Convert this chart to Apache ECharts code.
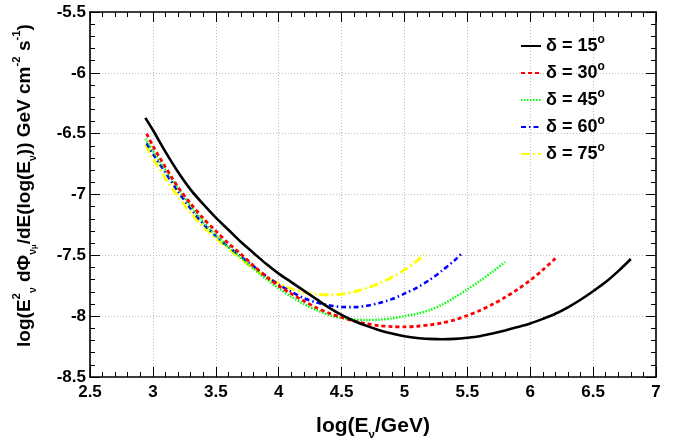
<!DOCTYPE html>
<html>
<head>
<meta charset="utf-8">
<script src="https://cdn.jsdelivr.net/npm/echarts@6/dist/echarts.min.js"></script>
<style>
  html, body { margin: 0; padding: 0; background: #fff; }
  #chart { width: 678px; height: 443px; }
</style>
</head>
<body>
<div id="chart"></div>
<script>
const angles = ['15', '30', '45', '60', '75'];

const x15 = [2.94, 3.0, 3.1, 3.2, 3.3, 3.4, 3.5, 3.6, 3.7, 3.8, 3.9, 4.0, 4.1, 4.2, 4.3, 4.4, 4.5, 4.6, 4.7, 4.8, 4.9,
  5.0, 5.1, 5.2, 5.3, 5.4, 5.5, 5.6, 5.7, 5.8, 5.9, 6.0, 6.1, 6.2, 6.3, 6.4, 6.5, 6.6, 6.7, 6.8];
const y15 = [-6.37, -6.47, -6.65, -6.815, -6.96, -7.08, -7.19, -7.29, -7.39, -7.48, -7.57, -7.65, -7.72, -7.79, -7.86,
  -7.93, -7.99, -8.04, -8.08, -8.115, -8.143, -8.165, -8.18, -8.187, -8.19, -8.187, -8.178, -8.165, -8.142, -8.117,
  -8.09, -8.06, -8.022, -7.98, -7.927, -7.865, -7.795, -7.72, -7.63, -7.53];

const x30 = [2.95, 3.0, 3.05, 3.1, 3.15, 3.2, 3.3, 3.4, 3.5, 3.6, 3.7, 3.8, 3.9, 4.0, 4.1, 4.2, 4.3, 4.4, 4.5, 4.6,
  4.7, 4.8, 4.9, 5.0, 5.1, 5.2, 5.3, 5.4, 5.5, 5.6, 5.7, 5.8, 5.9, 6.0, 6.1, 6.2];
const y30 = [-6.50, -6.60, -6.69, -6.775, -6.86, -6.94, -7.075, -7.195, -7.30, -7.40, -7.49, -7.585, -7.675, -7.75,
  -7.815, -7.875, -7.93, -7.975, -8.01, -8.04, -8.063, -8.078, -8.086, -8.088, -8.083, -8.072, -8.055, -8.03, -7.995,
  -7.953, -7.903, -7.845, -7.78, -7.705, -7.62, -7.525];

const x45 = [2.94, 3.0, 3.1, 3.2, 3.3, 3.4, 3.5, 3.6, 3.7, 3.8, 3.9, 4.0, 4.1, 4.2, 4.3, 4.4, 4.5, 4.6, 4.7, 4.8, 4.9,
  5.0, 5.1, 5.2, 5.3, 5.4, 5.5, 5.6, 5.7, 5.8];
const y45 = [-6.54, -6.64, -6.80, -6.95, -7.095, -7.225, -7.335, -7.43, -7.52, -7.61, -7.695, -7.77, -7.84, -7.90,
  -7.95, -7.99, -8.015, -8.027, -8.031, -8.028, -8.018, -8.0, -7.98, -7.95, -7.905, -7.845, -7.78, -7.71, -7.635,
  -7.555];

const x60 = [2.95, 3.0, 3.1, 3.2, 3.3, 3.4, 3.5, 3.6, 3.7, 3.8, 3.9, 4.0, 4.1, 4.2, 4.3, 4.4, 4.5, 4.6, 4.7, 4.8, 4.9,
  5.0, 5.1, 5.2, 5.3, 5.4, 5.45];
const y60 = [-6.58, -6.665, -6.82, -6.975, -7.115, -7.24, -7.34, -7.43, -7.51, -7.59, -7.67, -7.74, -7.80, -7.852,
  -7.888, -7.91, -7.924, -7.926, -7.915, -7.892, -7.86, -7.815, -7.765, -7.702, -7.625, -7.54, -7.49];

const x75 = [2.94, 3.0, 3.1, 3.2, 3.3, 3.4, 3.5, 3.6, 3.7, 3.8, 3.9, 4.0, 4.1, 4.2, 4.3, 4.4, 4.5, 4.6, 4.7, 4.8, 4.9,
  5.0, 5.1, 5.15];
const y75 = [-6.59, -6.70, -6.87, -7.015, -7.15, -7.265, -7.36, -7.445, -7.53, -7.61, -7.675, -7.73, -7.775, -7.805,
  -7.82, -7.825, -7.82, -7.80, -7.77, -7.73, -7.68, -7.62, -7.545, -7.49];

const xTicks = [2.5, 3, 3.5, 4, 4.5, 5, 5.5, 6, 6.5, 7];
const yTicks = [-8.5, -8, -7.5, -7, -6.5, -6, -5.5];

const xs = [x15, x30, x45, x60, x75];
const ys = [y15, y30, y45, y60, y75];
const colors = ['#000000', '#ff0000', '#00ff00', '#0000ff', '#ffff00'];
const dashes = ['solid', [4, 3], [1.5, 1.5], [5, 3, 1.5, 3], [9, 3, 2, 3]];
const widths = [2.6, 2.8, 2.4, 2.6, 2.8];

const font = 'Liberation Sans';

const series = angles.map((a, i) => ({
  name: a,
  type: 'line',
  symbol: 'none',
  smooth: 0.3,
  data: xs[i].map((x, k) => [x, ys[i][k]]),
  lineStyle: { color: colors[i], width: widths[i], type: dashes[i] },
  itemStyle: { color: colors[i] },
  z: 10 - i
}));

const axisCommon = {
  axisLine: { show: true, onZero: false, lineStyle: { color: '#000', width: 1.6 } },
  axisTick: { show: true, inside: true, length: 10, lineStyle: { color: '#000', width: 1 } },
  minorTick: { show: true, splitNumber: 5, length: 5, lineStyle: { color: '#000', width: 1 } }
};

function titleRich(size) {
  return {
    t: { fontFamily: font, fontWeight: 'bold', fontSize: size, lineHeight: size + 8, color: '#000' },
    sup: { fontFamily: font, fontWeight: 'bold', fontSize: size * 0.6, verticalAlign: 'top', lineHeight: size * 0.6, color: '#000' },
    sub: { fontFamily: font, fontWeight: 'bold', fontSize: size * 0.55, verticalAlign: 'bottom', lineHeight: size * 0.55, color: '#000' },
    subsub: { fontFamily: font, fontWeight: 'bold', fontSize: size * 0.4, verticalAlign: 'bottom', lineHeight: size * 0.2, color: '#000' }
  };
}

const chart = echarts.init(document.getElementById('chart'));
chart.setOption({
  animation: false,
  backgroundColor: '#fff',
  grid: { left: 90, right: 22, top: 12, bottom: 66, outerBoundsMode: 'none', containLabel: false },
  legend: {
    orient: 'vertical',
    left: 515,
    top: 29,
    itemGap: 6,
    itemWidth: 20,
    itemHeight: 20,
    data: angles,
    formatter: name => '{a|δ = ' + name + '}{o|o}',
    itemStyle: { color: 'rgba(0,0,0,0)', borderColor: 'rgba(0,0,0,0)', borderWidth: 0, opacity: 0 },
    textStyle: {
      rich: {
        a: { fontFamily: font, fontWeight: 'bold', fontSize: 18, color: '#000', lineHeight: 24 },
        o: { fontFamily: font, fontWeight: 'bold', fontSize: 12, color: '#000', verticalAlign: 'top', lineHeight: 12 }
      }
    }
  },
  xAxis: [
    Object.assign({
      type: 'value', min: 2.5, max: 7, interval: 0.5,
      name: '{t|log(E}{sub|ν}{t|/GeV)}',
      nameLocation: 'middle', nameGap: 35,
      nameTextStyle: { rich: titleRich(21) },
      axisLabel: {
        margin: 7, fontFamily: font, fontWeight: 'bold', fontSize: 17, color: '#000',
        formatter: v => (xTicks.includes(v) ? String(v) : '')
      },
      splitLine: { show: true, lineStyle: { color: '#bdbdbd', width: 1, type: [1, 2] } }
    }, axisCommon),
    Object.assign({
      type: 'value', min: 2.5, max: 7, interval: 0.5, position: 'top',
      axisLabel: { show: false }, splitLine: { show: false }
    }, axisCommon)
  ],
  yAxis: [
    Object.assign({
      type: 'value', min: -8.5, max: -5.5, interval: 0.5,
      name: '{t|log(E}{sup|2}{sub|ν}{t| dΦ}{sub|ν}{subsub|μ}{t|/dE(log(E}{sub|ν}{t|)) GeV cm}{sup|-2}{t| s}{sup|-1}{t|)}',
      nameLocation: 'middle', nameGap: 52, nameRotate: 90,
      nameTextStyle: { rich: titleRich(19), padding: [0, 0, 0, 18] },
      axisLabel: {
        margin: 4, fontFamily: font, fontWeight: 'bold', fontSize: 17, color: '#000',
        formatter: v => (yTicks.includes(v) ? String(v) : '')
      },
      splitLine: { show: true, lineStyle: { color: '#bdbdbd', width: 1, type: [1, 2] } }
    }, axisCommon),
    Object.assign({
      type: 'value', min: -8.5, max: -5.5, interval: 0.5, position: 'right',
      axisLabel: { show: false }, splitLine: { show: false }
    }, axisCommon)
  ],
  series: series
});
</script>
</body>
</html>
